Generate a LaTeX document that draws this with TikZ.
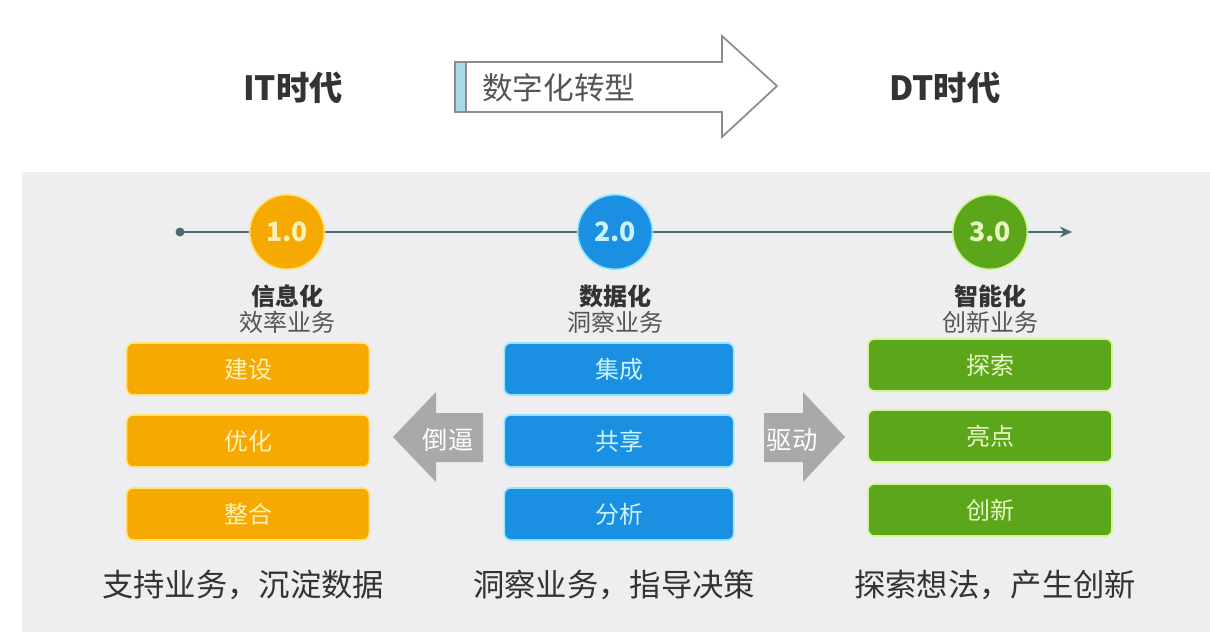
\documentclass[tikz,border=0pt]{standalone}
\usepackage{fontspec}
\setmainfont{Noto Sans CJK SC}
\usetikzlibrary{arrows.meta}
\definecolor{panelbg}{HTML}{EEEDF0}
\definecolor{darktext}{HTML}{333333}
\definecolor{midtext}{HTML}{555555}
\definecolor{arrowline}{HTML}{8C8C8C}
\definecolor{bandblue}{HTML}{A9D9E6}
\definecolor{tline}{HTML}{4E6A73}
\definecolor{orfill}{HTML}{F6A900}
\definecolor{orglow}{HTML}{FFE27A}
\definecolor{ortext}{HTML}{FFF1B5}
\definecolor{blfill}{HTML}{1B8FE2}
\definecolor{blglow}{HTML}{8FE6FF}
\definecolor{bltext}{HTML}{C9F3FF}
\definecolor{grfill}{HTML}{5CA61C}
\definecolor{grglow}{HTML}{D2F58C}
\definecolor{grtext}{HTML}{E6F8C4}
\definecolor{grayarrow}{HTML}{A9A9A9}
\begin{document}
\begin{tikzpicture}[x=0.75pt,y=-0.75pt,
  eralabel/.style={text=darktext,font=\fontsize{25}{30}\selectfont\bfseries},
  phasecircle/.style={circle,minimum size=56pt,inner sep=0pt,line width=1.2pt,font=\fontsize{20}{24}\selectfont\bfseries},
  phasetitle/.style={text=darktext,font=\fontsize{18}{22}\selectfont\bfseries,inner sep=0pt},
  phasesub/.style={text=midtext,font=\fontsize{18}{22}\selectfont,inner sep=0pt},
  itembox/.style={rounded corners=5pt,minimum height=39pt,inner sep=0pt,line width=1.2pt,font=\fontsize{18}{22}\selectfont},
  orbox/.style={itembox,fill=orfill,draw=orglow,text=ortext,minimum width=182pt},
  blbox/.style={itembox,fill=blfill,draw=blglow,text=bltext,minimum width=172pt},
  grbox/.style={itembox,fill=grfill,draw=grglow,text=grtext,minimum width=183pt},
  bottomtext/.style={text=darktext,font=\fontsize{23.5}{28}\selectfont,inner sep=0pt},
  arrowtext/.style={text=white,font=\fontsize{19}{22}\selectfont,inner sep=0pt}
]
\useasboundingbox (0,0) rectangle (1210,632);
\fill[white] (0,0) rectangle (1210,632);
\fill[panelbg] (22,172) rectangle (1210,632);

% top row
\node[eralabel] (it) at (293,88) {IT时代};
\node[eralabel] (dt) at (945,88) {DT时代};
\draw[arrowline,fill=white,line width=1.3pt,line join=miter]
  (455,62) -- (722,62) -- (722,36) -- (777,86) -- (722,137) -- (722,112) -- (455,112) -- cycle;
\fill[bandblue] (456,63) rectangle (466,111);
\draw[arrowline,line width=0.8pt] (466,62) -- (466,112);
\node[text=midtext,font=\fontsize{23}{28}\selectfont,anchor=west,inner sep=0pt] (dx) at (482,88) {数字化转型};

% timeline
\coordinate (tstart) at (180,232);
\coordinate (tend) at (1072,232);
\draw[tline,line width=2.2pt,-{Stealth[length=9pt,width=8pt]}] (tstart) -- (tend);
\fill[tline] (tstart) circle (4.5);
\node[phasecircle,fill=orfill,draw=orglow,text=ortext] (c1) at (287,232) {1.0};
\node[phasecircle,fill=blfill,draw=blglow,text=bltext] (c2) at (615,232) {2.0};
\node[phasecircle,fill=grfill,draw=grglow,text=grtext] (c3) at (990,232) {3.0};

% phase titles
\node[phasetitle] (t1) at (287,296) {信息化};
\node[phasesub] (s1) at (287,322) {效率业务};
\node[phasetitle] (t2) at (615,296) {数据化};
\node[phasesub] (s2) at (615,322) {洞察业务};
\node[phasetitle] (t3) at (990,296) {智能化};
\node[phasesub] (s3) at (990,322) {创新业务};

% boxes
\node[orbox] (o1) at (248,369) {建设};
\node[orbox] (o2) at (248,441) {优化};
\node[orbox] (o3) at (248,514) {整合};
\node[blbox] (b1) at (619,369) {集成};
\node[blbox] (b2) at (619,441) {共享};
\node[blbox] (b3) at (619,514) {分析};
\node[grbox] (g1) at (990,365) {探索};
\node[grbox] (g2) at (990,436) {亮点};
\node[grbox] (g3) at (990,510) {创新};

% gray arrows
\fill[grayarrow] (393,437) -- (436,392) -- (436,413) -- (483,413) -- (483,462) -- (436,462) -- (436,482) -- cycle;
\node[arrowtext] (back) at (448,440) {倒逼};
\fill[grayarrow] (845,437) -- (803,392) -- (803,413) -- (764,413) -- (764,462) -- (803,462) -- (803,482) -- cycle;
\node[arrowtext] (drive) at (792,440) {驱动};

% bottom texts
\node[bottomtext] (bt1) at (243,585) {支持业务，沉淀数据};
\node[bottomtext] (bt2) at (614,585) {洞察业务，指导决策};
\node[bottomtext] (bt3) at (995,585) {探索想法，产生创新};
\end{tikzpicture}
\end{document}
